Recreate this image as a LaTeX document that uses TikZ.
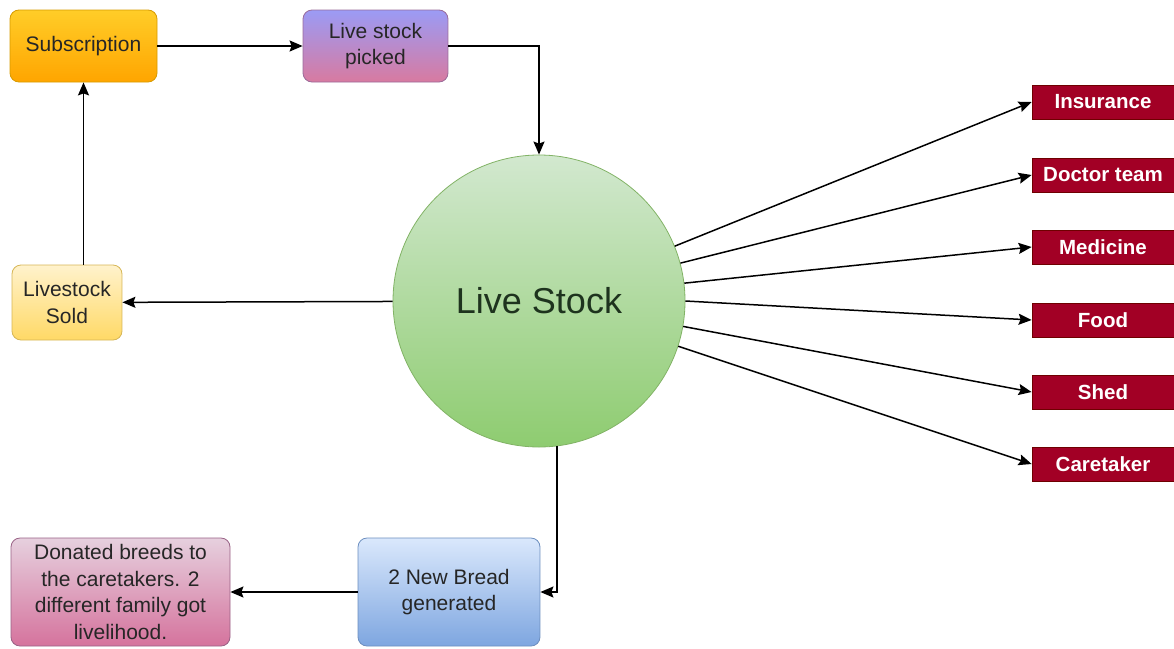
\documentclass[tikz,border=0pt]{standalone}
\usepackage{fontspec}
\setmainfont{Liberation Sans}
\usetikzlibrary{arrows.meta}
\definecolor{subsTop}{HTML}{FFCD28}
\definecolor{subsBot}{HTML}{FFA500}
\definecolor{subsLine}{HTML}{D79B00}
\definecolor{pickTop}{HTML}{9B9BF5}
\definecolor{pickBot}{HTML}{D87AA0}
\definecolor{pickLine}{HTML}{9A6B9A}
\definecolor{soldTop}{HTML}{FFF2CC}
\definecolor{soldBot}{HTML}{FFD966}
\definecolor{soldLine}{HTML}{D6B656}
\definecolor{liveTop}{HTML}{D2E8CF}
\definecolor{liveBot}{HTML}{8ECC70}
\definecolor{liveLine}{HTML}{82B366}
\definecolor{liveText}{HTML}{1E331E}
\definecolor{breadTop}{HTML}{DAE8FC}
\definecolor{breadBot}{HTML}{7EA6E0}
\definecolor{breadLine}{HTML}{6C8EBF}
\definecolor{donTop}{HTML}{E6D0DE}
\definecolor{donBot}{HTML}{D5739D}
\definecolor{donLine}{HTML}{996185}
\definecolor{needFill}{HTML}{A20025}
\definecolor{needLine}{HTML}{6F0000}
\tikzset{
  box/.style={draw, rounded corners=9pt, line width=0.8pt, inner sep=0pt,
    align=center, text=black!85, font=\fontsize{21}{26.5}\selectfont},
  need/.style={draw=needLine, fill=needFill, line width=0.8pt, inner sep=0pt,
    minimum width=142, minimum height=34, text=white,
    font=\bfseries\fontsize{20.5}{24}\selectfont},
  link/.style={-{Stealth[length=13pt,width=11pt,inset=2pt]}, line width=1.5pt}
}

\begin{document}
\begin{tikzpicture}[x=1pt,y=-1pt]
\useasboundingbox (0,0) rectangle (1174,648);

% the flow round the stock
\node[box, draw=subsLine, top color=subsTop, bottom color=subsBot,
  minimum width=147, minimum height=72] (subs) at (83.5,46) {Subscription};
\node[box, draw=pickLine, top color=pickTop, bottom color=pickBot,
  minimum width=145, minimum height=72] (picked) at (375.5,46) {Live stock\\picked};
\node[box, draw=soldLine, top color=soldTop, bottom color=soldBot,
  minimum width=110, minimum height=75] (sold) at (67,302.5) {Livestock\\Sold};
\node[circle, draw=liveLine, line width=0.8pt, top color=liveTop, bottom color=liveBot,
  minimum size=292, inner sep=0pt, text=liveText,
  font=\fontsize{36}{40}\selectfont] (live) at (539,301) {Live Stock};
\node[box, draw=breadLine, top color=breadTop, bottom color=breadBot,
  minimum width=182, minimum height=108] (bread) at (449,592) {2 New Bread\\generated};
\node[box, draw=donLine, top color=donTop, bottom color=donBot,
  minimum width=219, minimum height=108] (donated) at (120.5,592)
  {Donated breeds to\\the caretakers. 2\\different family got\\livelihood.};

% what the stock needs
\node[need] (insurance) at (1103,102) {Insurance};
\node[need] (doctor) at (1103,175) {Doctor team};
\node[need] (medicine) at (1103,247) {Medicine};
\node[need] (food) at (1103,320) {Food};
\node[need] (shed) at (1103,392) {Shed};
\node[need] (caretaker) at (1103,464) {Caretaker};

\draw[link] (subs) -- (picked);
\draw[link] (picked.east) -| (live.north);
\draw[link] (live) -- (sold);
\draw[link] (subs.south |- sold.north) -- (subs.south);
\draw[link] (live.-83) |- (bread.east);
\draw[link] (bread) -- (donated);

\draw[link] (live.22) -- (insurance.west);
\draw[link] (live.15) -- (doctor.west);
\draw[link] (live.7.5) -- (medicine.west);
\draw[link] (live.0) -- (food.west);
\draw[link] (live.-10.5) -- (shed.west);
\draw[link] (live.-18) -- (caretaker.west);
\end{tikzpicture}
\end{document}
